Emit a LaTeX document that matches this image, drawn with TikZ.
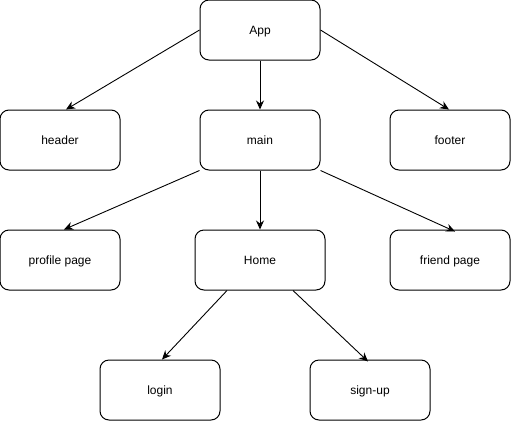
\documentclass[tikz,border=0pt]{standalone}
\usepackage{fontspec}
\setmainfont{Liberation Sans}
\usetikzlibrary{arrows.meta}

\begin{document}
\begin{tikzpicture}[x=1pt,y=-1pt,
  comp/.style={draw,line width=1pt,rounded corners=9pt,minimum width=120pt,
    minimum height=60pt,inner sep=0pt,text height=10pt,text depth=1.5pt,
    font=\fontsize{12}{14}\selectfont},
  link/.style={draw,line width=0.9pt,-{Stealth[length=9pt,width=8pt]}}]
  \useasboundingbox (0,0) rectangle (511,421);

  % components
  \node[comp] (app)     at (260,30)  {App};
  \node[comp] (header)  at (60,140)  {header};
  \node[comp] (main)    at (260,140) {main};
  \node[comp] (footer)  at (450,140) {footer};
  \node[comp] (profile) at (60,260)  {profile page};
  \node[comp,minimum width=130pt] (home) at (260,260) {Home};
  \node[comp] (friend)  at (450,260) {friend page};
  \node[comp] (login)   at (160,390) {login};
  \node[comp] (signup)  at (370,390) {sign-up};

  % links
  \draw[link] (app.west) -- ([xshift=6pt]header.north);
  \draw[link] (app.south) -- (main.north);
  \draw[link] (app.east) -- ([xshift=-1pt]footer.north);

  \draw[link] (main.south west) -- ([xshift=4pt]profile.north);
  \draw[link] (main.south) -- (home.north);
  \draw[link] (main.south east) -- ([xshift=5pt,yshift=-2pt]friend.north);

  \draw[link] ([xshift=-33pt]home.south) -- ([xshift=2pt]login.north);
  \draw[link] ([xshift=33pt]home.south) -- ([xshift=-2pt,yshift=-2pt]signup.north);
\end{tikzpicture}
\end{document}
